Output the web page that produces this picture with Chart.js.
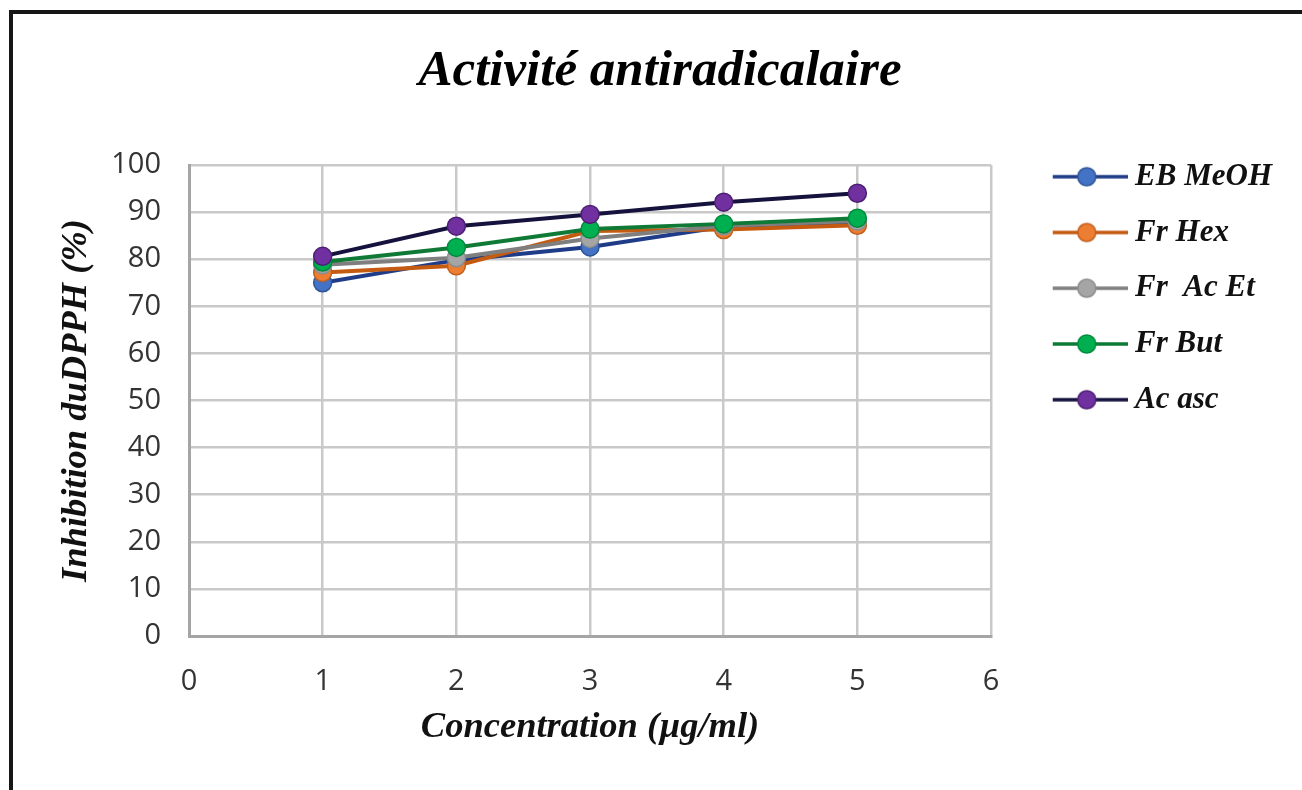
<!DOCTYPE html>
<html>
<head>
<meta charset="utf-8">
<script src="https://cdn.jsdelivr.net/npm/chart.js@4.4.1/dist/chart.umd.min.js"></script>
<style>
html,body{margin:0;padding:0;background:#fff;overflow:hidden;width:1302px;height:790px;}
#frame{position:absolute;left:9px;top:10px;width:1400px;height:900px;border:4px solid #161616;box-sizing:border-box;}
#c{position:absolute;left:0;top:0;}
</style>
</head>
<body>
<div id="frame"></div>
<canvas id="c" width="1302" height="790"></canvas>
<script>
// ---- data ----
const concentrations = [1, 2, 3, 4, 5];
const seriesNames = ['EB MeOH', 'Fr Hex', 'Fr  Ac Et', 'Fr But', 'Ac asc'];
const ebMeOH = [75.0, 79.8, 82.6, 86.9, 87.8];
const frHex  = [77.2, 78.6, 86.0, 86.3, 87.2];
const frAcEt = [78.8, 80.3, 84.4, 87.1, 88.1];
const frBut  = [79.4, 82.5, 86.4, 87.5, 88.7];
const acAsc  = [80.6, 87.0, 89.5, 92.1, 94.0];
const xTicks = [0, 1, 2, 3, 4, 5, 6];
const yTicks = [0, 10, 20, 30, 40, 50, 60, 70, 80, 90, 100];
const chartTitle = 'Activité antiradicalaire';
const xTitle = 'Concentration (µg/ml)';
const yTitle = 'Inhibition duDPPH (%)';

// ---- styles ----
const lineColors   = ['#1f3c88', '#c55a11', '#7f7f7f', '#0f7a35', '#15123d'];
const markerColors = ['#4472c4', '#ed7d31', '#a5a5a5', '#00b050', '#7030a0'];
const markerBorders= ['#2f5597', '#c0601e', '#8c8c8c', '#008a3e', '#4d1f73'];
const allSeries = [ebMeOH, frHex, frAcEt, frBut, acAsc];

function legendImg(i) {
  const c = document.createElement('canvas');
  c.width = 120; c.height = 24;
  const g = c.getContext('2d');
  g.strokeStyle = lineColors[i]; g.lineWidth = 3.5;
  g.beginPath(); g.moveTo(45, 12); g.lineTo(120, 12); g.stroke();
  g.beginPath(); g.arc(79, 12, 9, 0, Math.PI * 2);
  g.fillStyle = markerColors[i]; g.fill();
  g.lineWidth = 1.5; g.strokeStyle = markerBorders[i]; g.stroke();
  return c;
}
const legendImgs = seriesNames.map((_, i) => legendImg(i));

let padR = 20;
let padL = 18 + padR;

const serif = 'Liberation Serif';
const datasets = seriesNames.map((name, i) => ({
  label: name,
  data: concentrations.map((c, k) => ({x: c, y: allSeries[i][k]})),
  borderColor: lineColors[i],
  backgroundColor: markerColors[i],
  pointBackgroundColor: markerColors[i],
  pointBorderColor: markerBorders[i],
  pointBorderWidth: 1.5,
  pointRadius: 9,
  pointHoverRadius: 9,
  borderWidth: 4,
  tension: 0,
  fill: false,
  order: seriesNames.length - 1 - i
}));

const gridOpts = {color: '#c9c9c9', lineWidth: 2.5, drawTicks: false};
const borderOpts = {color: '#a5a5a5', width: 3};

const chart = new Chart(document.getElementById('c'), {
  type: 'line',
  data: {datasets},
  options: {
    responsive: false,
    animation: false,
    devicePixelRatio: 1,
    layout: {padding: {left: padL, right: padR, top: 0, bottom: 0}},
    plugins: {
      tooltip: {enabled: false},
      title: {
        display: true, text: chartTitle, color: '#000',
        font: {family: serif, size: 51, style: 'italic', weight: 'bold'},
        padding: {top: 41, bottom: 62.8}
      },
      legend: {
        position: 'right', align: 'start', fullSize: true,
        title: {display: true, text: '', font: {size: 10}, padding: {top: 124.5, bottom: 0}},
        labels: {
          usePointStyle: true, pointStyleWidth: 103.75, padding: 24.75, color: '#111',
          font: {family: serif, size: 31, style: 'italic', weight: 'bold'},
          sort: (a, b) => a.datasetIndex - b.datasetIndex,
          generateLabels: (ch) => {
            const items = Chart.defaults.plugins.legend.labels.generateLabels(ch);
            items.forEach(it => { it.pointStyle = legendImgs[it.datasetIndex]; });
            return items;
          }
        }
      }
    },
    scales: {
      x: {
        type: 'linear', min: 0, max: 6,
        afterBuildTicks: s => { s.ticks = xTicks.map(v => ({value: v})); },
        afterFit: s => { s.height = 154; },
        grid: gridOpts, border: borderOpts,
        ticks: {padding: 28, maxRotation: 0, autoSkip: false, color: '#333',
                font: {family: 'Open Sans', size: 29}},
        title: {display: true, text: xTitle, color: '#111',
                font: {family: serif, size: 36.5, style: 'italic', weight: 'bold'},
                padding: {top: 0, bottom: 40.5}}
      },
      y: {
        min: 0, max: 100,
        afterBuildTicks: s => { s.ticks = yTicks.map(v => ({value: v})); },
        afterFit: s => { s.width = 189 - padL; },
        grid: gridOpts, border: borderOpts,
        ticks: {padding: 28, autoSkip: false, color: '#333',
                font: {family: 'Open Sans', size: 29}},
        title: {display: true, text: yTitle, color: '#111',
                font: {family: serif, size: 36.5, style: 'italic', weight: 'bold'},
                padding: {top: 55 - padL, bottom: 0}}
      }
    }
  }
});

for (let k = 0; k < 4; k++) {
  const d = chart.chartArea.right - 991;
  if (Math.abs(d) < 0.25) break;
  padR += d;
  padL = 18 + padR;
  chart.options.layout.padding = {left: padL, right: padR, top: 0, bottom: 0};
  chart.options.scales.y.title.padding = {top: 55 - padL, bottom: 0};
  chart.update('none');
}
</script>
</body>
</html>
